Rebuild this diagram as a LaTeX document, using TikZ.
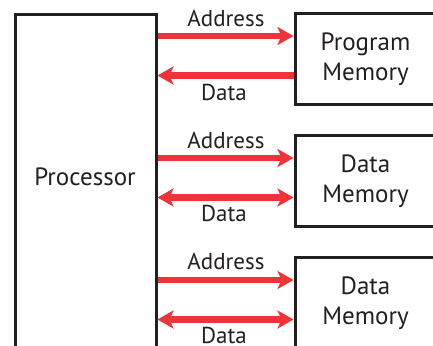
\documentclass[tikz,border=0pt]{standalone}
\usepackage{fontspec}
\setmainfont{PT Sans}
\usetikzlibrary{arrows.meta}
\definecolor{busred}{RGB}{238,52,56}
\definecolor{ink}{RGB}{35,31,32}
\begin{document}
\begin{tikzpicture}[x=1pt,y=-1pt,
  unit/.style={draw=ink, line width=3pt, inner sep=0pt},
  mem/.style={unit, minimum width=141pt, minimum height=91pt, align=center,
    font=\fontsize{25}{30}\selectfont, text=ink},
  tip/.tip={Stealth[length=16pt,width=18pt,inset=4pt]},
  bus/.style={draw=busred, line width=6.5pt, -tip},
  bibus/.style={draw=busred, line width=6.5pt, tip-tip},
  lbl/.style={font=\fontsize{23}{26}\selectfont, text=ink, anchor=base}]
\useasboundingbox (0,0) rectangle (433,345);
\clip (0,0) rectangle (433,345);

% processor and memories (running off the page edges)
\node[unit, minimum width=141pt, minimum height=360pt, anchor=north west] (proc) at (13.5,13.5) {};
\node[font=\fontsize{25}{30}\selectfont, text=ink, anchor=base] (plabel) at (85,185) {Processor};
\node[mem] (pm)  at (365.5,59)  {Program\\Memory};
\node[mem] (dm1) at (365.5,181) {Data\\Memory};
\node[mem] (dm2) at (365.5,303) {Data\\Memory};

% buses
\draw[bus]   (proc.east |- 0,36)    -- (pm.west |- 0,36);
\draw[bus]   (pm.west |- 0,75.5)    -- (proc.east |- 0,75.5);
\draw[bus]   (proc.east |- 0,158)   -- (dm1.west |- 0,158);
\draw[bibus] (proc.east |- 0,197.5) -- (dm1.west |- 0,197.5);
\draw[bus]   (proc.east |- 0,280)   -- (dm2.west |- 0,280);
\draw[bibus] (proc.east |- 0,319.5) -- (dm2.west |- 0,319.5);

% bus labels
\node[lbl] (a1) at (226,27)  {Address};
\node[lbl] (d1) at (224,100) {Data};
\node[lbl] (a2) at (226,148) {Address};
\node[lbl] (d2) at (224,221) {Data};
\node[lbl] (a3) at (226,269) {Address};
\node[lbl] (d3) at (224,343) {Data};
\end{tikzpicture}
\end{document}
